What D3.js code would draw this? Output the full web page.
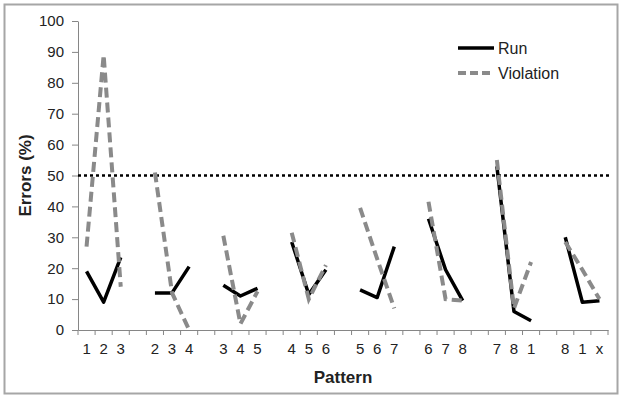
<!DOCTYPE html>
<html>
<head>
<meta charset="utf-8">
<script src="https://cdn.jsdelivr.net/npm/d3@7"></script>
<style>
  body { margin: 0; background: #fff; }
  text { font-family: "Liberation Sans", Arial, sans-serif; }
</style>
</head>
<body>
<div id="chart"></div>
<script>
// pattern groups shown along the x axis (one empty slot between groups)
const groups = [
  ["1", "2", "3"], ["2", "3", "4"], ["3", "4", "5"], ["4", "5", "6"],
  ["5", "6", "7"], ["6", "7", "8"], ["7", "8", "1"], ["8", "1", "x"]
];
const runValues = [
  [19, 9, 23.5], [12, 12, 20.5], [14.5, 11, 13.5], [28.5, 11.5, 19.5],
  [13, 10.5, 27], [36, 19.5, 9.5], [53, 6, 3], [30, 9, 9.5]
];
const violationValues = [
  [27, 89, 14], [51, 12, 0], [30.5, 2, 12.5], [31.5, 10, 21],
  [39.5, 23, 7], [41.5, 10, 9.5], [55, 7, 22], [28.5, 19.5, 10]
];
const yTicks = [0, 10, 20, 30, 40, 50, 60, 70, 80, 90, 100];
const threshold = 50;
const seriesNames = ["Run", "Violation"];

const svgWidth = 625, svgHeight = 400;
const margin = {top: 21, right: 17, bottom: 70, left: 78};

const svg = d3.select("#chart").append("svg")
  .attr("width", svgWidth)
  .attr("height", svgHeight);

// outer frame
svg.append("rect")
  .attr("x", 4.5).attr("y", 4.5)
  .attr("width", 613).attr("height", 389)
  .attr("fill", "none")
  .attr("stroke", "#a6a6a6")
  .attr("stroke-width", 2);

// build slot keys: 3 per group, plus a gap slot between groups
let slots = [];
let labelOf = {};
groups.forEach((g, gi) => {
  g.forEach((lab, i) => {
    const k = `g${gi}-${i}`;
    slots.push(k);
    labelOf[k] = lab;
  });
  if (gi < groups.length - 1) {
    slots.push(`gap${gi}`);
    labelOf[`gap${gi}`] = "";
  }
});

const x = d3.scaleBand()
  .domain(slots)
  .range([margin.left, svgWidth - margin.right])
  .padding(0);

const y = d3.scaleLinear()
  .domain([0, 100])
  .range([svgHeight - margin.bottom, margin.top]);

const xc = k => x(k) + x.bandwidth() / 2;

// y axis
const gY = svg.append("g")
  .attr("transform", `translate(${margin.left},0)`)
  .call(d3.axisLeft(y).tickValues(yTicks).tickSize(6).tickPadding(8).tickSizeOuter(0));
gY.select(".domain").attr("stroke", "#868686");
gY.selectAll(".tick line").attr("stroke", "#868686");
gY.selectAll(".tick text")
  .attr("font-size", 15)
  .attr("font-family", "Liberation Sans, Arial, sans-serif")
  .attr("fill", "#222");

// x axis: labels at slot centres, ticks at slot boundaries
const gX = svg.append("g")
  .attr("transform", `translate(0,${y(0)})`)
  .call(d3.axisBottom(x).tickSize(0).tickPadding(13).tickFormat(k => labelOf[k]).tickSizeOuter(0));
gX.select(".domain").attr("stroke", "#868686");
gX.selectAll(".tick text")
  .attr("font-size", 15)
  .attr("font-family", "Liberation Sans, Arial, sans-serif")
  .attr("fill", "#222");

const bounds = slots.map(k => x(k)).concat([x.range()[1]]);
gX.selectAll("line.bound")
  .data(bounds)
  .enter().append("line")
    .attr("class", "bound")
    .attr("x1", d => d).attr("x2", d => d)
    .attr("y1", 0).attr("y2", 5)
    .attr("stroke", "#868686");

// axis titles
svg.append("text")
  .attr("transform", `translate(31,${(y(0) + y(100)) / 2}) rotate(-90)`)
  .attr("text-anchor", "middle")
  .attr("font-size", 17)
  .attr("font-weight", "bold")
  .attr("fill", "#222")
  .text("Errors (%)");

svg.append("text")
  .attr("x", (x.range()[0] + x.range()[1]) / 2)
  .attr("y", 383)
  .attr("text-anchor", "middle")
  .attr("font-size", 17)
  .attr("font-weight", "bold")
  .attr("fill", "#222")
  .text("Pattern");

// 50% reference line
svg.append("line")
  .attr("x1", x.range()[0]).attr("x2", x.range()[1] + 3)
  .attr("y1", y(threshold)).attr("y2", y(threshold))
  .attr("stroke", "#000")
  .attr("stroke-width", 2.5)
  .attr("stroke-dasharray", "3,3");

const line = d3.line()
  .x(d => xc(d.k))
  .y(d => y(d.v));

function toPoints(values, gi) {
  return values[gi].map((v, i) => ({k: `g${gi}-${i}`, v: v}));
}

// Run series
svg.append("g").selectAll("path")
  .data(groups.map((g, gi) => toPoints(runValues, gi)))
  .enter().append("path")
    .attr("d", line)
    .attr("fill", "none")
    .attr("stroke", "#000")
    .attr("stroke-width", 3.5)
    .attr("stroke-linejoin", "round");

// Violation series
svg.append("g").selectAll("path")
  .data(groups.map((g, gi) => toPoints(violationValues, gi)))
  .enter().append("path")
    .attr("d", line)
    .attr("fill", "none")
    .attr("stroke", "#8a8a8a")
    .attr("stroke-width", 4)
    .attr("stroke-dasharray", "10,5");

// legend
const legend = svg.append("g").attr("transform", "translate(458,48)");
const legStyles = [
  {stroke: "#000", width: 3.5, dash: null},
  {stroke: "#8a8a8a", width: 4, dash: "8,4"}
];
seriesNames.forEach((name, i) => {
  const row = legend.append("g").attr("transform", `translate(0,${i * 25})`);
  row.append("line")
    .attr("x1", 0).attr("x2", 36)
    .attr("y1", 0).attr("y2", 0)
    .attr("stroke", legStyles[i].stroke)
    .attr("stroke-width", legStyles[i].width)
    .attr("stroke-dasharray", legStyles[i].dash);
  row.append("text")
    .attr("x", 40).attr("y", 6)
    .attr("font-size", 16)
    .attr("fill", "#222")
    .text(name);
});
</script>
</body>
</html>
